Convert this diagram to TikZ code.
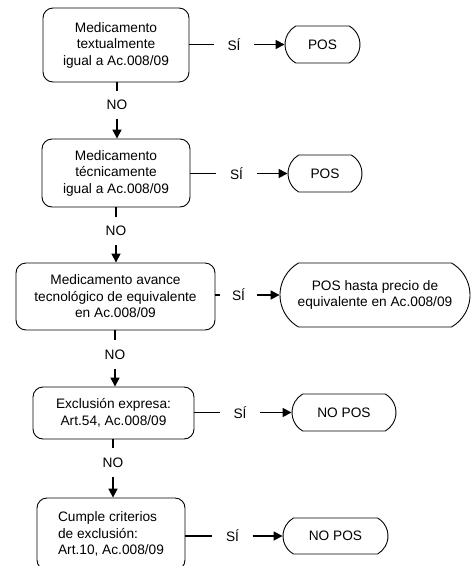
\documentclass[tikz,border=0pt]{standalone}
\usepackage{fontspec}
\setmainfont{Liberation Sans}
\usetikzlibrary{shapes.misc,arrows.meta}
\begin{document}
\begin{tikzpicture}[x=1pt,y=-1pt,
  every node/.style={font=\fontsize{13.7}{16.5}\selectfont, text=black},
  decision/.style={draw, line width=0.9pt, rounded corners=10pt, align=center, inner sep=0pt},
  outcome/.style={draw, line width=0.9pt, rounded rectangle, rounded rectangle arc length=120,
    inner sep=0pt, align=center},
  yeslabel/.style={inner sep=0pt, minimum width=40pt, minimum height=14pt},
  nolabel/.style={inner sep=0pt, minimum height=27pt},
  link/.style={line width=1.7pt},
  flow/.style={link, -{Triangle[length=9pt,width=9pt]}}
]
\useasboundingbox (0,0) rectangle (476,566);

% decision boxes
\node[decision, minimum width=146pt, minimum height=74pt] (b1) at (116,45)
  {Medicamento\\textualmente\\igual a Ac.008/09};
\node[decision, minimum width=148pt, minimum height=68pt] (b2) at (116,173)
  {Medicamento\\técnicamente\\igual a Ac.008/09};
\node[decision, minimum width=199pt, minimum height=67pt] (b3) at (115.5,296.5)
  {Medicamento avance\\tecnológico de equivalente\\en Ac.008/09};
\node[decision, minimum width=161pt, minimum height=52pt] (b4) at (113.5,413)
  {Exclusión expresa:\\Art.54, Ac.008/09};
\node[decision, minimum width=148pt, minimum height=72pt, align=left] (b5) at (111,534)
  {Cumple criterios\\de exclusión:\\Art.10, Ac.008/09};

% outcomes
\node[outcome, minimum width=75pt, minimum height=37pt] (p1) at (322.5,44.5) {POS};
\node[outcome, minimum width=74pt, minimum height=37pt] (p2) at (325,173.5) {POS};
\node[outcome, minimum width=190pt, minimum height=64pt] (p3) at (375,295)
  {POS hasta precio de\\equivalente en Ac.008/09};
\node[outcome, minimum width=104pt, minimum height=37pt] (p4) at (344,412.5) {NO POS};
\node[outcome, minimum width=105pt, minimum height=36pt] (p5) at (335.5,536) {NO POS};

% "yes" branches
\node[yeslabel] (s1) at (234,44.5) {SÍ};
\node[yeslabel] (s2) at (236.5,173.5) {SÍ};
\node[yeslabel, minimum width=37pt] (s3) at (238.5,295) {SÍ};
\node[yeslabel] (s4) at (240,412.5) {SÍ};
\node[yeslabel] (s5) at (232.5,536) {SÍ};

\foreach \i in {1,...,5}{
  \draw[link] (b\i.east |- s\i) -- (s\i.west);
  \draw[flow] (s\i.east) -- (p\i.west);
}

% "no" branches
\node[nolabel] (n1) at (117,105) {NO};
\node[nolabel, minimum height=28pt] (n2) at (116,231) {NO};
\node[nolabel, minimum height=29pt] (n3) at (115,354.5) {NO};
\node[nolabel, minimum height=29pt] (n4) at (113,462.5) {NO};

\draw[link] (b1.south -| n1) -- (n1.north);
\draw[flow] (n1.south) -- (b2.north -| n1);
\draw[link] (b2.south -| n2) -- (n2.north);
\draw[flow] (n2.south) -- (b3.north -| n2);
\draw[link] (b3.south -| n3) -- (n3.north);
\draw[flow] (n3.south) -- (b4.north -| n3);
\draw[link] (b4.south -| n4) -- (n4.north);
\draw[flow] (n4.south) -- (b5.north -| n4);
\end{tikzpicture}
\end{document}
